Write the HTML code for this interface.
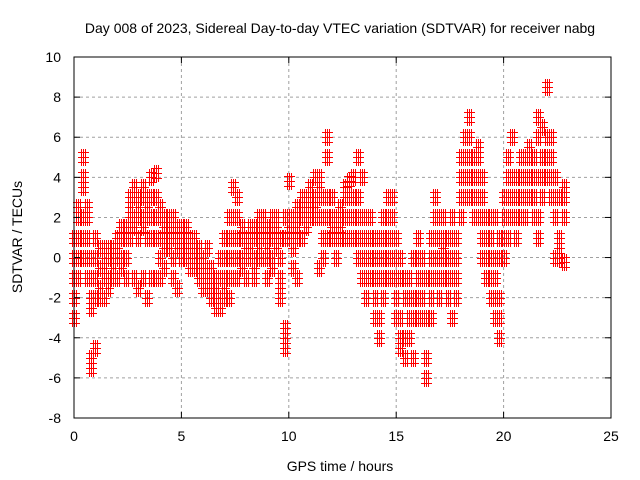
<!DOCTYPE html>
<html><head><meta charset="utf-8"><style>
body{margin:0;background:#fff;}
svg{display:block;font-family:"Liberation Sans",sans-serif;}
</style></head><body>
<svg id="chart" width="640" height="480">
<text x="340" y="33" text-anchor="middle" font-size="14">Day 008 of 2023, Sidereal Day-to-day VTEC variation (SDTVAR) for receiver nabg</text>
<text x="340" y="471" text-anchor="middle" font-size="14">GPS time / hours</text>
<text transform="translate(22,237) rotate(-90)" text-anchor="middle" font-size="14">SDTVAR / TECUs</text>
<g id="grid"></g><g id="marks"></g><g id="axes"></g>
</svg>
<script>
const xTicks=[0,5,10,15,20,25];
const yTicks=[-8,-6,-4,-2,0,2,4,6,8,10];
const times=[0,0.2,0.4,0.6,0.8,1.0,1.2,1.4,1.6,1.8,2.0,2.2,2.4,2.6,2.8,3.0,3.2,3.4,3.6,3.8,4.0,4.2,4.4,4.6,4.8,5.0,5.2,5.4,5.6,5.8,6.0,6.2,6.4,6.6,6.8,7.0,7.2,7.4,7.6,7.8,8.0,8.2,8.4,8.6,8.8,9.0,9.2,9.4,9.6,9.8,10.0,10.2,10.4,10.6,10.8,11.0,11.2,11.4,11.6,11.8,12.0,12.2,12.4,12.6,12.8,13.0,13.2,13.4,13.6,13.8,14.0,14.2,14.4,14.6,14.8,15.0,15.2,15.4,15.6,15.8,16.0,16.2,16.4,16.6,16.8,17.0,17.2,17.4,17.6,17.8,18.0,18.2,18.4,18.6,18.8,19.0,19.2,19.4,19.6,19.8,20.0,20.2,20.4,20.6,20.8,21.0,21.2,21.4,21.6,21.8,22.0,22.2,22.4,22.6,22.8];
const values=[[-3,-2,-1,0,1],[-1,0,1,2,2.5],[0,1,2,5,4,3.5],[1,2,2.5,0,-1],[-5.5,-5,-2,-1,0,-2.5],[-4.5,-2,-1,0,1],[-2,-1.5,-0.5,0.5],[-1,-0.5,0,0.5,-2],[-1.5,-1,0,0.5],[-0.5,0,0.5,-1],[-1,0,0.5,1],[-0.5,0,1,1.5],[0,1,1.5,-1],[1,2,2.5,3,1.5],[1.5,2,3,3.5,-1],[2,2.5,3,1,-1.5],[1.5,2,3,3.5,-1],[1,2,2.5,3,-2],[1,2,3,4,-1],[1,2,3,4.2,-1],[0,1,2,2.5,-1],[0.5,1,1.5,2,-0.5],[0.5,1,1.5,2],[0,1,1.5,2,-1],[0.5,1,1.5,-1.5],[0,0.5,1,1.5],[0,0.5,1,1.5],[-0.5,0,0.5,1],[-0.5,0,0.5,1],[-1,-0.5,0,0.5],[-1.5,-1,-0.5,0],[-1.5,-1,-0.5,0.5],[-2,-1.5,-1,-0.5],[-2.5,-2,-1.5,-1],[-2.5,-2,-1,0],[-2,-1,0,1,-1.5],[-2,-1,0,1,2],[-1,0,1,2,3.5],[-1,0,1,2,3],[-0.5,0,1,1.5],[0,0.5,1,-1],[0,0.5,1,1.5],[-0.5,0,1,1.5,-1],[0,0.5,1,1.5,2],[0,1,1.5,2],[0,0.5,1,1.5,-1],[0,1,1.5,2,-0.5],[0.5,1,1.5,2],[-1,-1.5,-2,1,0],[-4.5,-4,-3.5,1,2],[1,1.5,2,3.8],[0.5,1,1.5,2,-0.5],[1,1.5,2,2.5,-1],[1,2,2.5,3],[1.5,2,2.5,3],[2,2.5,3,3.5],[2,2.5,3,4],[2,3,3.5,4,-0.5],[0,1,2,3],[1,2,3,5,6],[1,1.5,2,3],[0,1,1.5,2],[1,1.5,2,2.5],[1,2,3,3.5],[1,2,3,3.8],[1,2,3,4],[0,1,2,3,5],[-1,0,1,2,4],[-2,-1,0,1,2],[-1,0,1,2],[-3,-2,-1,0,1],[-4,-3,-1,0,1],[-2,-1,0,1,2],[-1,0,1,2,3],[-1,0,1,2,3],[-3,-2,-1,0,1],[-4.5,-4,-3,-1,0],[-5,-4,-2,-1],[-4,-3,-2,-1],[-5,-3,-2,0],[-3,-2,-1,0,1],[-3,-2,-1,0],[-6,-5,-3,-1],[-3,-2,-1,0,1],[-1,0,1,2,3],[-2,-1,0,1,2],[-1,0,0.5,1,2],[-2,-1,0,1],[-3,-1,0,1,2],[-2,-1,0,1],[2,3,4,5],[3,4,5,6],[3,4,5,6,7],[2,3,4,5],[2,3,4,5,5.5],[0,1,2,3,4],[-1,0,1,2],[-2,-1,0,1,2],[-3,-2,-1,0,2],[-4,-3,-2,0,1],[0,1,2,3],[1,2,3,4,5],[2,3,4,6],[1,2,3,4],[2,3,4,5],[2,3,4,5],[3,4,5,5.5],[2,3,4,5],[1,2,4,6,7],[3,4,5,6.5],[4,5,6,8.5],[3,4,5,6],[0,2,3,4],[0.5,0,1,3],[2,3,3.5,-0.2]];
const L=74,R=611,T=57,B=418;
const xs=v=>L+(v-0)/25*(R-L);
const ys=v=>B-(v+8)/18*(B-T);
const NS='http://www.w3.org/2000/svg';
const grid=document.getElementById('grid'),marks=document.getElementById('marks'),axes=document.getElementById('axes');
function mk(tag,attrs,parent){const e=document.createElementNS(NS,tag);for(const k in attrs)e.setAttribute(k,attrs[k]);parent.appendChild(e);return e;}
xTicks.forEach(t=>{const x=xs(t);
 if(t>0&&t<25){const g=mk('line',{x1:x,x2:x,y1:T,y2:B,stroke:'#a0a0a0','stroke-dasharray':'3,3'},grid);
 
 }
 const tx=mk('text',{x:x,y:B+23,'text-anchor':'middle','font-size':14},axes);tx.textContent=t;
 
 
 mk('line',{x1:x,x2:x,y1:B,y2:B-6,stroke:'#000'},axes);mk('line',{x1:x,x2:x,y1:T,y2:T+6,stroke:'#000'},axes);});
yTicks.forEach(t=>{const y=ys(t);
 if(t>-8&&t<10){const g=mk('line',{x1:L,x2:R,y1:y,y2:y,stroke:'#a0a0a0','stroke-dasharray':'3,3'},grid);
 
 }
 const tx=mk('text',{x:L-13,y:y+5,'text-anchor':'end','font-size':14},axes);tx.textContent=t;
 
 
 mk('line',{x1:L,x2:L+6,y1:y,y2:y,stroke:'#000'},axes);mk('line',{x1:R,x2:R-6,y1:y,y2:y,stroke:'#000'},axes);});
const fr=mk('rect',{x:L,y:T,width:R-L,height:B-T,fill:'none',stroke:'#000'},axes);


const clusterDX=[-2,0,2],clusterDY=[-5,0,5];
let d='';
times.forEach((t,i)=>{values[i].forEach(v=>{const x0=Math.round(xs(t)),y0=Math.round(ys(v));
 clusterDX.forEach(dx=>clusterDY.forEach(dy=>{const x=x0+dx+0.5,y=y0+dy+0.5;d+=`M${x-3.5},${y}h7M${x},${y-3.5}v7`;}));});});
const p=mk('path',{d:d,stroke:'#ff0000','stroke-width':1,fill:'none','shape-rendering':'crispEdges'},marks);


</script>
</body></html>
